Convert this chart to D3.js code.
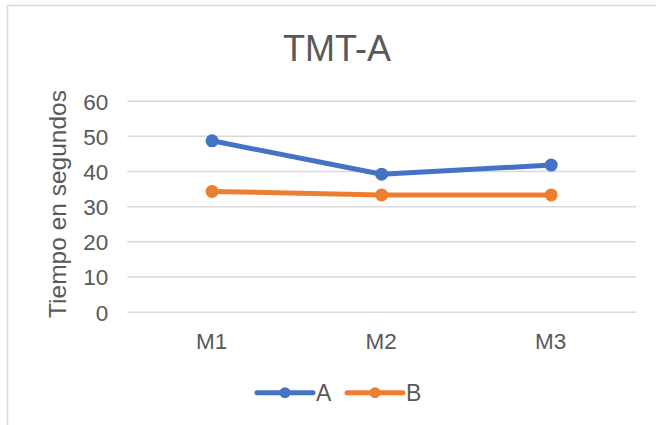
<!DOCTYPE html>
<html><head><meta charset="utf-8">
<script src="https://cdn.jsdelivr.net/npm/d3@7"></script>
<style>body{margin:0;background:#fff}svg{display:block;font-family:"Liberation Sans",Arial,sans-serif}</style>
</head><body>
<script>
const categories = ["M1", "M2", "M3"];
const seriesNames = ["A", "B"];
const valuesA = [48.6, 39.1, 41.7];
const valuesB = [34.2, 33.2, 33.2];
const yTicks = [0, 10, 20, 30, 40, 50, 60];
const colors = ["#4472C4", "#ED7D31"];

const W = 656, H = 425;
const svg = d3.select("body").append("svg").attr("width", W).attr("height", H);
svg.append("rect").attr("x", 7.5).attr("y", 5.5).attr("width", W).attr("height", H)
  .attr("fill", "#fff").attr("stroke", "#d9d9d9").attr("stroke-width", 1.5);

const x = d3.scalePoint().domain(categories).range([127.3, 636]).padding(0.5);
const y = d3.scaleLinear().domain([0, 60]).range([311.7, 100.7]);

// gridlines
const yAxis = d3.axisLeft(y).tickValues(yTicks).tickSize(-(636 - 127.3)).tickPadding(19);
const ga = svg.append("g").attr("transform", "translate(127.3,0)").call(yAxis);
ga.select(".domain").remove();
ga.selectAll(".tick line").attr("stroke", "#d9d9d9").attr("stroke-width", 1.5);
ga.selectAll(".tick text").attr("fill", "#595959").style("font-size", "22.5px").attr("dy", "0.37em")
  .attr("font-family", "Liberation Sans, Arial, sans-serif");

const xAxis = d3.axisBottom(x).tickSize(0).tickPadding(0);
const gx = svg.append("g").attr("transform", "translate(-1,349)").call(xAxis);
gx.select(".domain").remove();
gx.selectAll(".tick text").attr("fill", "#595959").style("font-size", "22.5px").attr("dy", 0)
  .attr("font-family", "Liberation Sans, Arial, sans-serif");

// title
svg.append("text").attr("x", 337).attr("y", 60.5).attr("text-anchor", "middle")
  .attr("fill", "#595959").style("font-size", "36px").text("TMT-A");

// y label
svg.append("text").attr("transform", "translate(66,204) rotate(-90)").attr("text-anchor", "middle")
  .attr("fill", "#595959").style("font-size", "24.5px").text("Tiempo en segundos");

const series = [valuesA, valuesB];
const line = d3.line().x((d, i) => x(categories[i])).y(d => y(d));
series.forEach((vals, s) => {
  svg.append("path").datum(vals).attr("d", line).attr("fill", "none")
    .attr("stroke", colors[s]).attr("stroke-width", 5).attr("stroke-linejoin", "round");
  svg.selectAll(null).data(vals).enter().append("circle")
    .attr("cx", (d, i) => x(categories[i])).attr("cy", d => y(d)).attr("r", 6.5)
    .attr("fill", colors[s]);
});

// legend
const legX = [257, 347];
seriesNames.forEach((n, s) => {
  const g = svg.append("g").attr("transform", `translate(${legX[s]},392.7)`);
  g.append("line").attr("x1", 0).attr("x2", 56).attr("stroke", colors[s]).attr("stroke-width", 5)
    .attr("stroke-linecap", "round");
  g.append("circle").attr("cx", 28).attr("r", 5.5).attr("fill", colors[s]);
  g.append("text").attr("x", 59).attr("y", 8).attr("fill", "#595959").style("font-size", "23px").text(n);
});
</script>
</body></html>
